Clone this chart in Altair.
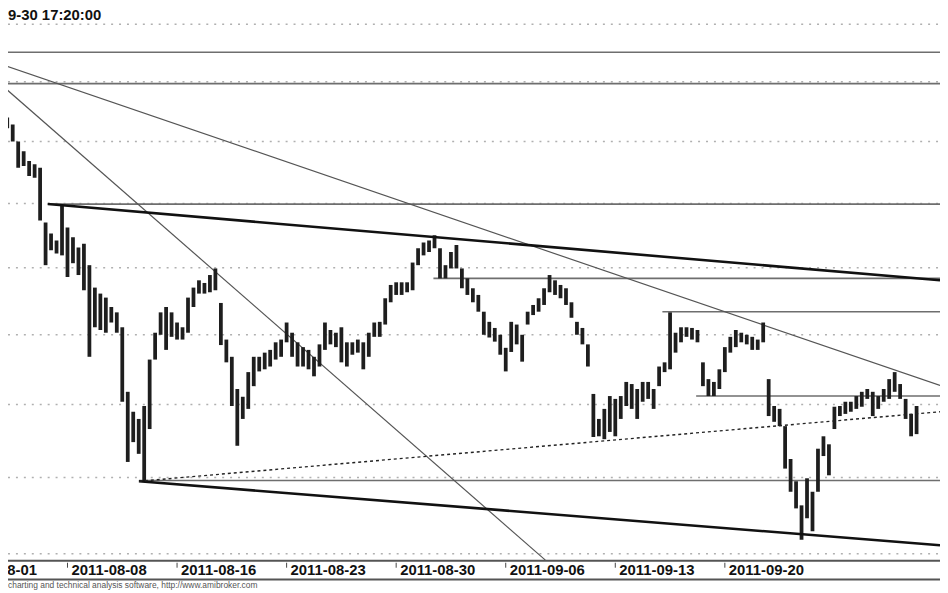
import altair as alt
import pandas as pd

# ---------------- data ----------------
TITLE = "9-30 17:20:00"
FOOTER = "charting and technical analysis software, http://www.amibroker.com"

# bars: one bar every quarter of a trading day, starting at trading day 2 (day 0 = 2011-08-01)
FIRST_DAY = 2.0
BARS_PER_DAY = 4
BAR_HIGH = [
    2747, 2740, 2728, 2700, 2684, 2668, 2663, 2657, 2570, 2553,
    2542, 2596, 2562, 2547, 2531, 2537, 2504, 2470, 2461, 2455,
    2441, 2433, 2411, 2318, 2290, 2280, 2298, 2364, 2403, 2433,
    2441, 2433, 2418, 2411, 2455, 2470, 2481, 2477, 2489, 2499,
    2447, 2393, 2368, 2322, 2311, 2346, 2368, 2368, 2374, 2378,
    2389, 2393, 2418, 2403, 2389, 2382, 2378, 2368, 2386, 2418,
    2407, 2403, 2411, 2389, 2389, 2393, 2389, 2403, 2418, 2419,
    2454, 2474, 2478, 2478, 2478, 2508, 2530, 2539, 2542, 2550,
    2530, 2504, 2524, 2535, 2499, 2484, 2469, 2459, 2434, 2419,
    2410, 2400, 2381, 2419, 2415, 2400, 2434, 2444, 2454, 2469,
    2489, 2481, 2474, 2469, 2448, 2419, 2410, 2386, 2315, 2280,
    2294, 2312, 2308, 2312, 2332, 2329, 2322, 2332, 2332, 2322,
    2354, 2360, 2433, 2403, 2411, 2411, 2410, 2407, 2360, 2336,
    2332, 2350, 2382, 2397, 2407, 2403, 2400, 2397, 2393, 2418,
    2336, 2298, 2294, 2270, 2225, 2195, 2163, 2199, 2181, 2239,
    2256, 2245, 2297, 2298, 2304, 2304, 2312, 2318, 2322, 2318,
    2312, 2322, 2336, 2346, 2329, 2308, 2287, 2298,
]
BAR_LOW = [
    2733, 2722, 2700, 2657, 2660, 2644, 2641, 2573, 2504, 2527,
    2522, 2519, 2486, 2507, 2489, 2466, 2368, 2411, 2407, 2403,
    2418, 2403, 2304, 2221, 2248, 2232, 2195, 2266, 2364, 2400,
    2378, 2397, 2393, 2393, 2403, 2441, 2461, 2461, 2463, 2466,
    2385, 2360, 2298, 2243, 2280, 2294, 2326, 2347, 2350, 2354,
    2364, 2368, 2389, 2368, 2354, 2354, 2350, 2340, 2354, 2378,
    2386, 2382, 2360, 2354, 2371, 2374, 2350, 2368, 2397, 2397,
    2415, 2448, 2459, 2459, 2463, 2466, 2504, 2519, 2524, 2530,
    2484, 2484, 2499, 2499, 2469, 2459, 2448, 2434, 2400, 2396,
    2390, 2371, 2347, 2375, 2386, 2361, 2415, 2429, 2434, 2444,
    2463, 2459, 2454, 2444, 2425, 2400, 2386, 2354, 2255, 2256,
    2252, 2262, 2256, 2280, 2298, 2294, 2280, 2304, 2308, 2294,
    2326, 2346, 2350, 2374, 2389, 2397, 2393, 2389, 2326, 2312,
    2312, 2322, 2346, 2374, 2382, 2389, 2386, 2378, 2378, 2389,
    2284, 2276, 2270, 2212, 2181, 2159, 2118, 2146, 2129, 2181,
    2229, 2203, 2266, 2284, 2287, 2290, 2294, 2297, 2308, 2284,
    2294, 2304, 2308, 2318, 2308, 2280, 2256, 2259,
]

# x-axis labels (trading-day index, text)
LABEL_DAYS = [0, 5, 10, 15, 20, 25, 30, 35]
LABEL_TEXT = ["2011-08-01", "2011-08-08", "2011-08-16", "2011-08-23",
              "2011-08-30", "2011-09-06", "2011-09-13", "2011-09-20"]

# price grid
GRID_PRICES = [2100, 2200, 2300, 2400, 2500, 2600, 2700, 2800, 2900]

# drawn study lines: (start day, start price, end day, end price)
THIN_LINES = [(1.92, 2831, 44.82, 2327), (1.92, 2797, 26.81, 2092)]
THICK_LINES = [(4.10, 2599, 44.82, 2481), (8.26, 2195, 44.82, 2111)]
LEVEL_LINES = [(4.10, 2599, 44.82, 2599), (0.0, 2797, 44.82, 2797),
               (0.0, 2851, 44.82, 2851), (21.70, 2484, 44.82, 2484),
               (32.15, 2434, 44.82, 2434), (33.69, 2312, 44.82, 2312),
               (8.26, 2196, 44.82, 2196)]
DOTTED_LINES = [(8.26, 2195, 44.82, 2290)]

# ---------------- chart ----------------
W, H = 940, 585
FONT = "Liberation Sans"

bars = pd.DataFrame({
    "day": [FIRST_DAY + i / BARS_PER_DAY for i in range(len(BAR_HIGH))],
    "high": BAR_HIGH,
    "low": BAR_LOW,
})

def lines_df(rows):
    return pd.DataFrame(rows, columns=["d1", "p1", "d2", "p2"])

xs = alt.Scale(domain=[2.285, 44.819], nice=False, zero=False)
ys = alt.Scale(type="log", domain=[2053.6, 2924.5], nice=False, zero=False)

def seg_layer(rows, color, width, dash=None):
    kw = dict(color=color, strokeWidth=width, clip=True)
    if dash:
        kw["strokeDash"] = dash
    return alt.Chart(lines_df(rows)).mark_rule(**kw).encode(
        x=alt.X("d1:Q", scale=xs, axis=None),
        x2="d2:Q",
        y=alt.Y("p1:Q", scale=ys, axis=None),
        y2="p2:Q",
    )

grid = alt.Chart(pd.DataFrame({"p": GRID_PRICES})).mark_rule(
    color="#b0b0b0", strokeWidth=1.5, strokeDash=[2, 6]
).encode(
    y=alt.Y("p:Q", scale=ys, axis=None),
    x=alt.value(0), x2=alt.value(W),
)

bar_layer = alt.Chart(bars).mark_rule(color="#1e1e1e", strokeWidth=3.8, clip=True).encode(
    x=alt.X("day:Q", scale=xs, axis=None),
    y=alt.Y("low:Q", scale=ys, axis=None),
    y2="high:Q",
)

levels = seg_layer(LEVEL_LINES, "#6e6e6e", 1.6)
thin = seg_layer(THIN_LINES, "#555555", 1.2)
thick = seg_layer(THICK_LINES, "#111111", 2.6)
dotted = seg_layer(DOTTED_LINES, "#222222", 1.4, [3, 3])

one = pd.DataFrame({"k": [0]})
strip_top = alt.Chart(one).mark_rule(color="#555555", strokeWidth=2).encode(
    y=alt.value(555), x=alt.value(0), x2=alt.value(W))
strip_bot = alt.Chart(one).mark_rule(color="#555555", strokeWidth=2).encode(
    y=alt.value(574), x=alt.value(0), x2=alt.value(W))

labels_df = pd.DataFrame({"day": LABEL_DAYS, "label": LABEL_TEXT})
ticks = alt.Chart(labels_df).mark_rule(color="#444444", strokeWidth=1).encode(
    x=alt.X("day:Q", scale=xs, axis=None),
    y=alt.value(557), y2=alt.value(562),
)
labels = alt.Chart(labels_df).mark_text(
    align="left", baseline="alphabetic", dx=4, font=FONT, fontSize=15,
    fontWeight="bold", color="#111111"
).encode(
    x=alt.X("day:Q", scale=xs, axis=None),
    y=alt.value(569),
    text="label:N",
)

title = alt.Chart(pd.DataFrame({"t": [TITLE]})).mark_text(
    align="left", baseline="alphabetic", font=FONT, fontSize=15,
    fontWeight="bold", color="#111111"
).encode(x=alt.value(0), y=alt.value(9.5), text="t:N")

footer = alt.Chart(pd.DataFrame({"t": [FOOTER]})).mark_text(
    align="left", baseline="alphabetic", font=FONT, fontSize=8.5,
    color="#555555"
).encode(x=alt.value(0), y=alt.value(582.5), text="t:N")

chart = alt.layer(
    grid, levels, thin, bar_layer, thick, dotted,
    strip_top, strip_bot, ticks, labels, title, footer
).properties(
    width=W, height=H, padding=0,
    autosize=alt.AutoSizeParams(type="none"),
    background="white",
).configure_view(stroke=None)

chart.save("out.html", embed_options={"renderer": "svg", "actions": False})
